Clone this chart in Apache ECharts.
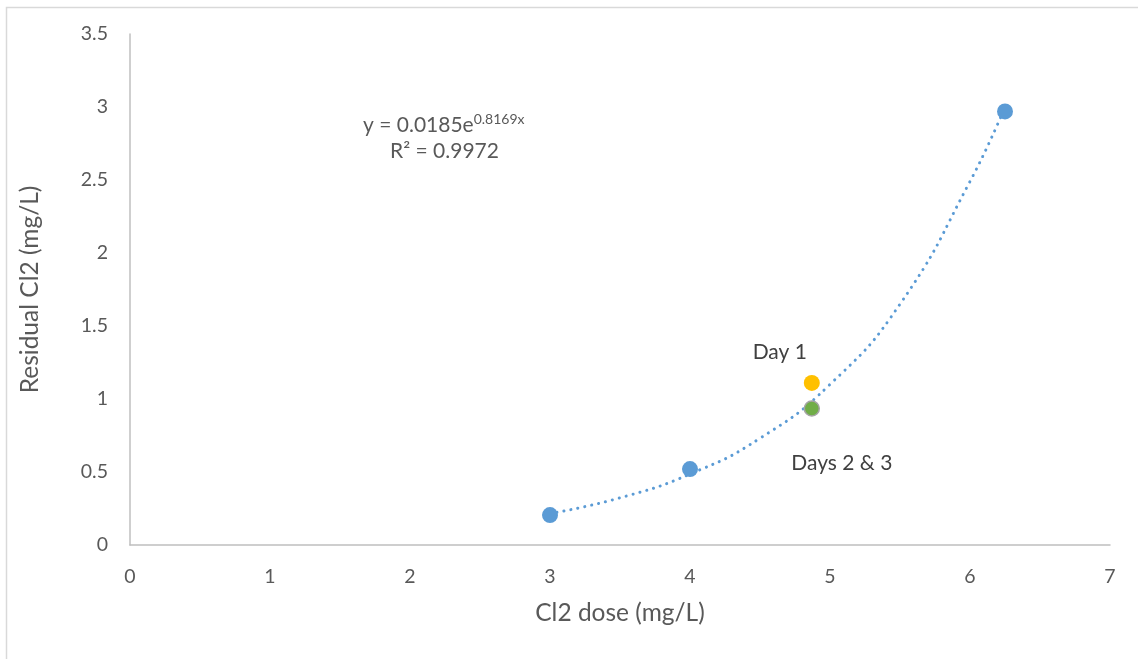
<!DOCTYPE html>
<html>
<head>
<meta charset="utf-8">
<script src="https://cdn.jsdelivr.net/npm/echarts@6/dist/echarts.min.js"></script>
<style>
html,body{margin:0;padding:0;background:#fff;}
#chart{width:1138px;height:659px;}
</style>
</head>
<body>
<div id="chart"></div>
<script>
// Measured doses and residuals
const doseData = [[3, 0.205], [4, 0.52], [6.25, 2.97]];
const day1 = [[4.87, 1.11]];
const days23 = [[4.87, 0.935]];
// Exponential trendline, sampled along the fitted curve
const trendX = [3, 3.5, 4, 4.5, 5, 5.5, 6, 6.25];
const trendY = [0.215, 0.323, 0.486, 0.731, 1.10, 1.65, 2.49, 3.0];
const xTicks = [0, 1, 2, 3, 4, 5, 6, 7];
const yTicks = [0, 0.5, 1, 1.5, 2, 2.5, 3, 3.5];

const FONT = 'Lato';
const TXT = '#595959';

const chart = echarts.init(document.getElementById('chart'));
chart.setOption({
  backgroundColor: '#fff',
  animation: false,
  textStyle: { fontFamily: FONT },
  grid: { left: 130, right: 28, top: 34, bottom: 114 },
  xAxis: {
    type: 'value', min: xTicks[0], max: xTicks[xTicks.length - 1], interval: 1,
    name: 'Cl2 dose (mg/L)', nameLocation: 'middle', nameGap: 56,
    nameTextStyle: { fontSize: 24.5, color: TXT, fontFamily: FONT },
    axisLine: { lineStyle: { color: '#bfbfbf', width: 1.5 } },
    axisTick: { show: false },
    splitLine: { show: false },
    axisLabel: { color: TXT, fontSize: 19.5, margin: 22, fontFamily: FONT }
  },
  yAxis: {
    type: 'value', min: yTicks[0], max: yTicks[yTicks.length - 1], interval: 0.5,
    name: 'Residual Cl2 (mg/L)', nameLocation: 'middle', nameGap: 87,
    nameTextStyle: { fontSize: 24.5, color: TXT, fontFamily: FONT },
    axisLine: { show: true, lineStyle: { color: '#bfbfbf', width: 1.5 } },
    axisTick: { show: false },
    splitLine: { show: false },
    axisLabel: { color: TXT, fontSize: 19.5, margin: 22, fontFamily: FONT }
  },
  series: [
    {
      type: 'line', smooth: true, showSymbol: false, silent: true,
      data: trendX.map((x, i) => [x, trendY[i]]),
      lineStyle: { color: '#5b9bd5', width: 3, type: [0.1, 7], cap: 'round' },
      z: 1
    },
    {
      type: 'scatter', data: doseData, symbolSize: 16,
      itemStyle: { color: '#5b9bd5', opacity: 1 }, z: 3
    },
    {
      type: 'scatter', data: day1, symbolSize: 16,
      itemStyle: { color: '#ffc000', opacity: 1 }, z: 3,
      label: { show: true, formatter: 'Day 1', position: 'inside', offset: [-32, -31],
        color: '#404040', fontSize: 21, fontFamily: FONT }
    },
    {
      type: 'scatter', data: days23, symbolSize: 15,
      itemStyle: { color: '#70ad47', borderColor: '#a5a5a5', borderWidth: 1.5, opacity: 1 }, z: 3,
      label: { show: true, formatter: 'Days 2 & 3', position: 'inside', offset: [30, 55],
        color: '#404040', fontSize: 21, fontFamily: FONT }
    }
  ],
  graphic: [
    { type: 'rect', left: 4, top: 5, shape: { width: 1160, height: 680 },
      style: { fill: 'none', stroke: '#d9d9d9', lineWidth: 1.5 }, silent: true, z: -1 },
    { type: 'text', left: 363, top: 112,
      style: { text: '{a|y = 0.0185e}{b|0.8169x}', rich: {
        a: { fontSize: 21, fill: TXT, fontFamily: FONT, verticalAlign: 'bottom' },
        b: { fontSize: 14, fill: TXT, fontFamily: FONT, verticalAlign: 'top', padding: [0, 0, 10, 0] }
      } } },
    { type: 'text', left: 390, top: 141,
      style: { text: 'R² = 0.9972', fontSize: 21, fill: TXT, fontFamily: FONT } }
  ]
});
</script>
</body>
</html>
